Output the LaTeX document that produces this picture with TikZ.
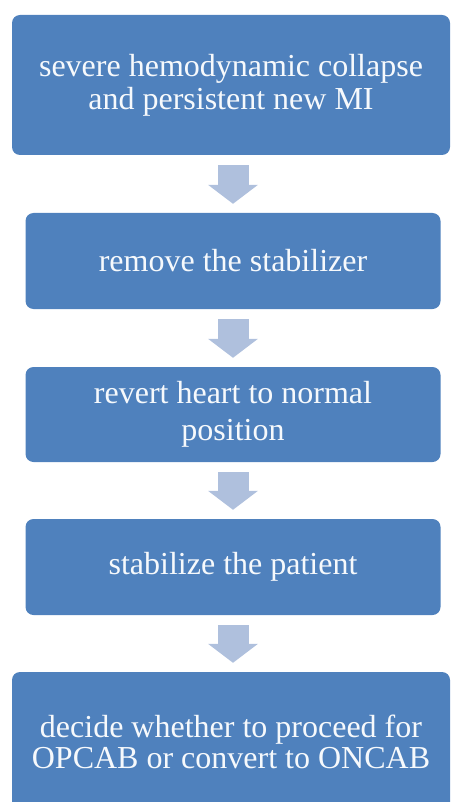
\documentclass[tikz,border=0pt]{standalone}
\usepackage{fontspec}
\setmainfont{Liberation Serif}
\usetikzlibrary{arrows.meta}
\definecolor{stepblue}{HTML}{4F81BD}
\definecolor{arrowblue}{HTML}{AFC0DD}
\tikzset{
  stepbox/.style={rounded corners=8pt, fill=stepblue, text=white!95!stepblue, align=center,
    inner sep=0pt, font=\fontsize{32}{33}\selectfont},
  flow/.style={draw=arrowblue, line width=31pt, shorten <=10pt, shorten >=9pt,
    -{Triangle[width=49pt,length=19pt]}}
}
\begin{document}
\begin{tikzpicture}[x=1pt, y=-1pt]
  \clip (0,0) rectangle (452,802);
  \node[stepbox, minimum width=438pt, minimum height=140pt] (b1) at (231,85) {severe hemodynamic collapse\\and persistent new MI};
  \node[stepbox, minimum width=415pt, minimum height=96pt] (b2) at (233,261) {remove the stabilizer};
  \node[stepbox, minimum width=415pt, minimum height=95pt, font=\fontsize{32}{37}\selectfont] (b3) at (233,414.5) {revert heart to normal\\position};
  \node[stepbox, minimum width=415pt, minimum height=96pt] (b4) at (233,567) {stabilize the patient};
  \node[stepbox, minimum width=438pt, minimum height=140pt, font=\fontsize{32}{31}\selectfont] (b5) at (231,742) {decide whether to proceed for\\OPCAB or convert to ONCAB};
  \draw[flow] (b1.south -| b2.north) -- (b2.north);
  \draw[flow] (b2.south) -- (b3.north);
  \draw[flow] (b3.south) -- (b4.north);
  \draw[flow] (b4.south) -- (b4.south |- b5.north);
\end{tikzpicture}
\end{document}
